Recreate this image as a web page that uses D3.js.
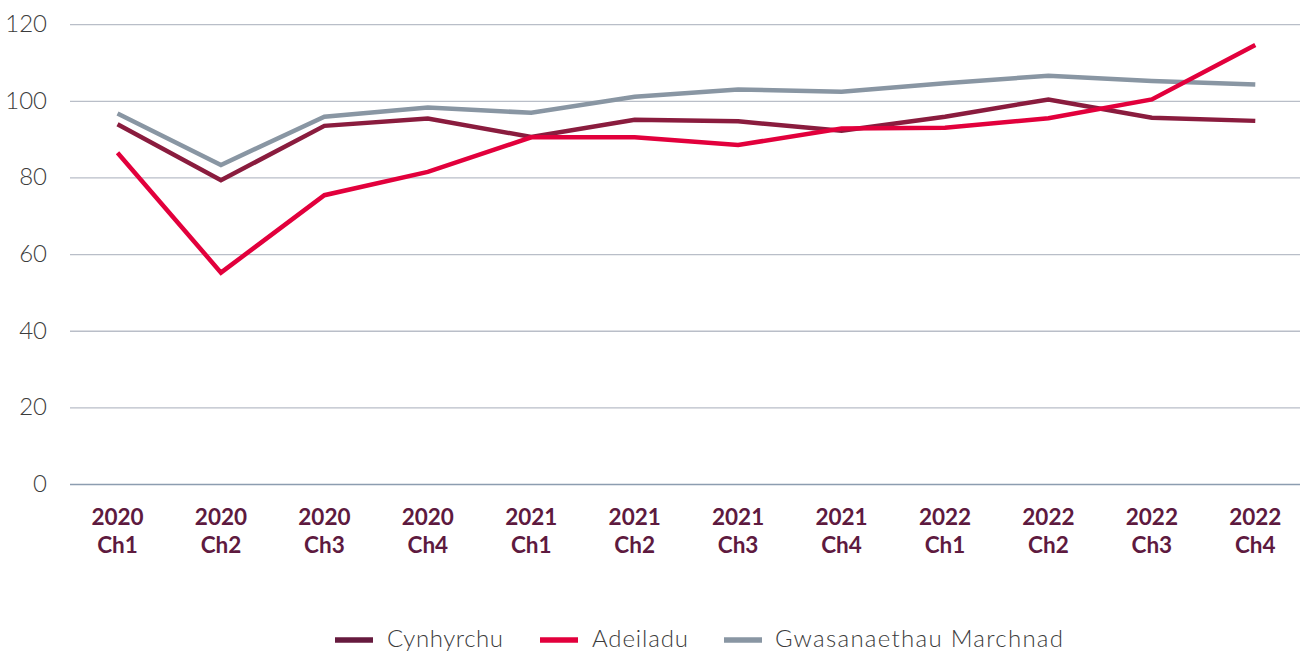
<!DOCTYPE html>
<html>
<head>
<meta charset="utf-8">
<script src="https://cdn.jsdelivr.net/npm/d3@7"></script>
<style>
  html, body { margin: 0; padding: 0; background: #fff; }
  svg { display: block; }
</style>
</head>
<body>
<svg id="chart" width="1300" height="653"></svg>
<script>
const categories = ["2020 Ch1","2020 Ch2","2020 Ch3","2020 Ch4","2021 Ch1","2021 Ch2","2021 Ch3","2021 Ch4","2022 Ch1","2022 Ch2","2022 Ch3","2022 Ch4"];
const cynhyrchu = [94.0, 79.4, 93.6, 95.5, 90.7, 95.2, 94.8, 92.3, 96.0, 100.5, 95.7, 94.9];
const adeiladu = [86.6, 55.3, 75.5, 81.6, 90.6, 90.6, 88.6, 92.9, 93.1, 95.6, 100.5, 114.7];
const gwasanaethau = [96.8, 83.4, 96.0, 98.4, 97.0, 101.2, 103.1, 102.5, 104.7, 106.7, 105.3, 104.4];
const seriesNames = ["Cynhyrchu", "Adeiladu", "Gwasanaethau Marchnad"];
const yTicks = [0, 20, 40, 60, 80, 100, 120];

const lineColors = ["#8a1c3e", "#e2003c", "#8996a3"];
const swatchColors = ["#661a3e", "#e2003c", "#8996a3"];
const seriesData = [cynhyrchu, adeiladu, gwasanaethau];

const svg = d3.select("#chart");
const x = d3.scaleBand().domain(categories).range([65.8, 1307]).padding(0);
const y = d3.scaleLinear().domain([0, 120]).range([484.5, 24.7]);

// gridlines
svg.append("g").selectAll("line").data(yTicks).join("line")
  .attr("x1", 70).attr("x2", 1300)
  .attr("y1", d => y(d)).attr("y2", d => y(d))
  .attr("stroke", d => d === 0 ? "#8c9db0" : "#b9bec8")
  .attr("stroke-width", 1.3);

// y labels
svg.append("g").selectAll("text").data(yTicks).join("text")
  .attr("x", 47).attr("y", d => y(d) - 1)
  .attr("dy", "0.35em")
  .attr("text-anchor", "end")
  .attr("font-family", "Lato, 'Open Sans', sans-serif")
  .attr("font-weight", 300)
  .attr("font-size", 24)
  .attr("fill", "#3c3c3c")
  .text(d => d);

// x labels (two separate lines)
const xg = svg.append("g")
  .attr("font-family", "Lato, 'Open Sans', sans-serif")
  .attr("font-weight", 700)
  .attr("font-size", 22.5)
  .attr("fill", "#5e1a3f")
  .attr("text-anchor", "middle");
categories.forEach(d => {
  const parts = d.split(" ");
  const cx = x(d) + x.bandwidth() / 2;
  xg.append("text").attr("x", cx).attr("y", 525).text(parts[0]);
  xg.append("text").attr("x", cx).attr("y", 553).text(parts[1]);
});

const line = d3.line()
  .x((d, i) => x(categories[i]) + x.bandwidth() / 2)
  .y(d => y(d));

const order = [2, 0, 1];
order.forEach(k => {
  svg.append("path")
    .datum(seriesData[k])
    .attr("fill", "none")
    .attr("stroke", lineColors[k])
    .attr("stroke-width", 4.5)
    .attr("stroke-linejoin", "miter")
    .attr("d", line);
});

// legend
const legendItems = [
  {name: seriesNames[0], sx: 335, tx: 387, tw: 116},
  {name: seriesNames[1], sx: 540, tx: 592, tw: 96},
  {name: seriesNames[2], sx: 724, tx: 775, tw: 288}
];
const lg = svg.append("g");
legendItems.forEach((it, i) => {
  lg.append("line")
    .attr("x1", it.sx).attr("x2", it.sx + 38)
    .attr("y1", 640).attr("y2", 640)
    .attr("stroke", swatchColors[i]).attr("stroke-width", 5.5);
  lg.append("text")
    .attr("x", it.tx).attr("y", 647)
    .attr("font-family", "Lato, 'Open Sans', sans-serif")
    .attr("font-weight", 300)
    .attr("font-size", 24)
    .attr("textLength", it.tw)
    .attr("lengthAdjust", "spacing")
    .attr("fill", "#3c3c3c")
    .text(it.name);
});
</script>
</body>
</html>
